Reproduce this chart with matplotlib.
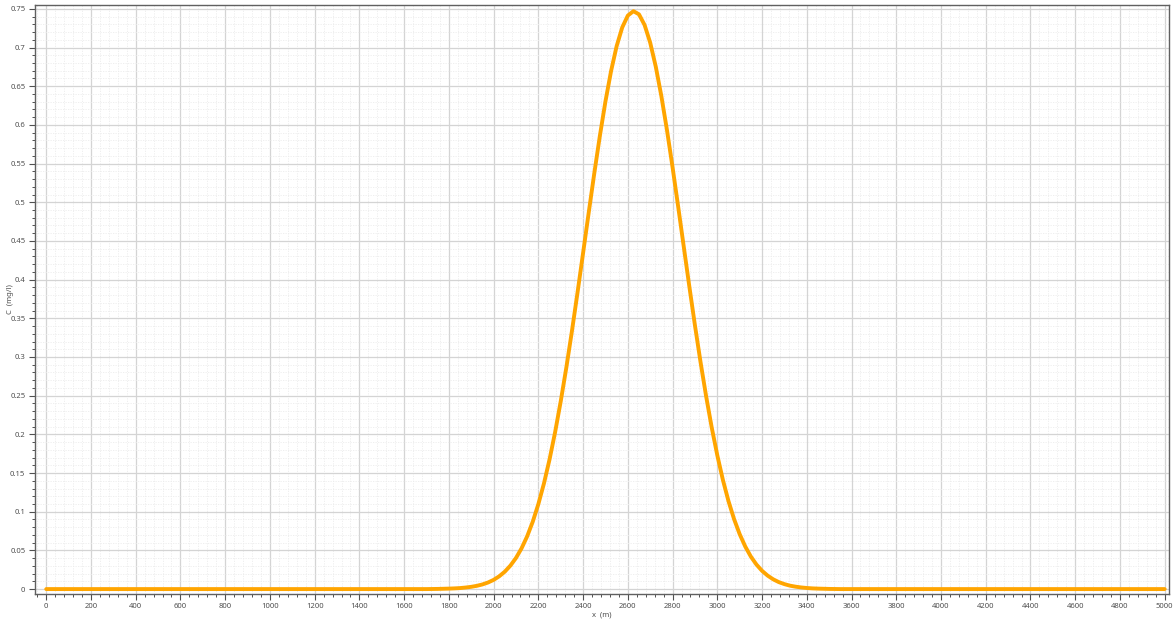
import numpy as np
import matplotlib
matplotlib.use("Agg")
from matplotlib import pyplot as plt
from matplotlib.ticker import MultipleLocator

# concentration profile
x_m = [0, 1700, 1750, 1800, 1825, 1850, 1875, 1900, 1925, 1950, 1975, 2000,
       2025, 2050, 2075, 2100, 2125, 2150, 2175, 2200, 2225, 2250, 2275,
       2300, 2325, 2350, 2375, 2400, 2425, 2450, 2475, 2500, 2525, 2550,
       2575, 2600, 2625, 2650, 2675, 2700, 2725, 2750, 2775, 2800, 2825,
       2850, 2875, 2900, 2925, 2950, 2975, 3000, 3025, 3050, 3075, 3100,
       3125, 3150, 3175, 3200, 3225, 3250, 3275, 3300, 3325, 3350, 3375,
       3400, 3425, 3450, 3475, 3500, 3550, 5000]
c_mgl = [0.0, 0.0, 0.0002, 0.0006, 0.0009, 0.0013, 0.0020, 0.0029, 0.0042,
         0.0060, 0.0085, 0.0119, 0.0165, 0.0225, 0.0303, 0.0402, 0.0527,
         0.0682, 0.0871, 0.1098, 0.1365, 0.1675, 0.2029, 0.2426, 0.2861,
         0.3332, 0.3830, 0.4344, 0.4863, 0.5373, 0.5858, 0.6304, 0.6695,
         0.7018, 0.7260, 0.7413, 0.7470, 0.7429, 0.7291, 0.7063, 0.6752,
         0.6371, 0.5933, 0.5452, 0.4945, 0.4427, 0.3911, 0.3410, 0.2935,
         0.2493, 0.2089, 0.1729, 0.1411, 0.1137, 0.0904, 0.0710, 0.0550,
         0.0420, 0.0317, 0.0236, 0.0174, 0.0126, 0.0090, 0.0064, 0.0044,
         0.0031, 0.0021, 0.0014, 0.0009, 0.0006, 0.0004, 0.0002, 0.0, 0.0]

fig = plt.figure(figsize=(11.76, 6.23), dpi=100)
ax = fig.add_axes([0.0298, 0.047, 0.964, 0.945])

ax.plot(x_m, c_mgl, color="#FFA500", lw=2.8, solid_capstyle="round",
        solid_joinstyle="round", zorder=3)

ax.set_xlim(-50, 5018)
ax.set_ylim(-0.006, 0.755)

ax.xaxis.set_major_locator(MultipleLocator(200))
ax.xaxis.set_minor_locator(MultipleLocator(40))
ax.yaxis.set_major_locator(MultipleLocator(0.05))
ax.yaxis.set_minor_locator(MultipleLocator(0.01))
ax.yaxis.set_major_formatter(plt.FuncFormatter(lambda v, p: "%g" % round(v, 2)))

ax.grid(which="major", color="#d4d4d4", lw=0.9)
ax.grid(which="minor", color="#ececec", lw=0.6, ls=(0, (1.5, 1.5)))
ax.set_axisbelow(True)

for s in ax.spines.values():
    s.set_color("#606060")
    s.set_linewidth(1.0)

ax.tick_params(which="major", length=4, width=0.8, color="#505050",
               labelsize=5.5, labelcolor="#505050", pad=3)
ax.tick_params(which="minor", length=2.5, width=0.7, color="#505050")
for lab in ax.get_xticklabels() + ax.get_yticklabels():
    lab.set_family("Noto Sans")

ax.set_xlabel("x  (m)", fontsize=5.5, color="#505050", family="Noto Sans",
              labelpad=1)
ax.set_ylabel("C  (mg/l)", fontsize=5.5, color="#505050", family="Noto Sans")
ax.yaxis.set_label_coords(-0.019, 0.5)

fig.savefig("out.png", dpi=100)
